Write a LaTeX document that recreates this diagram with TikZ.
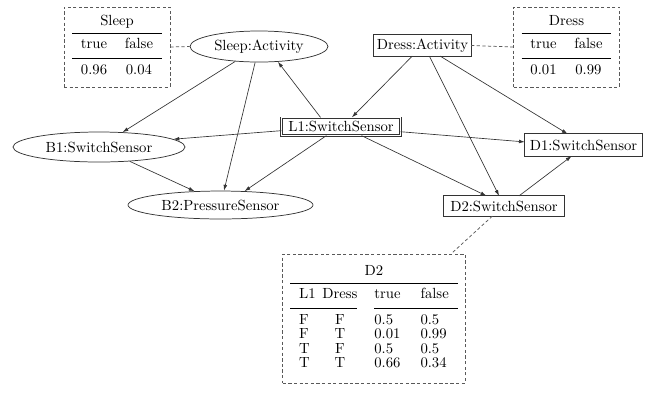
\documentclass[tikz,border=0pt]{standalone}
\usepackage{booktabs}
\usetikzlibrary{shapes.geometric,arrows.meta}
\renewcommand{\arraystretch}{0.82}
\setlength{\aboverulesep}{3.5pt}
\setlength{\belowrulesep}{3.8pt}
\definecolor{linecol}{gray}{0.2}
\definecolor{dashcol}{gray}{0.35}
\tikzset{
  ell/.style={ellipse, draw=linecol, line width=0.5pt, inner sep=0pt, text=black},
  dbox/.style={rectangle, draw=linecol, double, double distance=0.8pt, line width=0.4pt, inner sep=0pt, text=black},
  tbl/.style={rectangle, draw=dashcol, line width=0.5pt, dash pattern=on 2.2pt off 1.6pt, inner sep=0pt, text=black},
  arr/.style={draw=linecol, line width=0.45pt, -{Latex[length=4pt,width=2.6pt]}},
  dline/.style={draw=dashcol, line width=0.5pt, dash pattern=on 2.2pt off 1.6pt},
}
\begin{document}
\begin{tikzpicture}[x=0.68pt, y=-0.68pt]
\useasboundingbox (0,0) rectangle (655,394);
% variable nodes
\node[ell, minimum width=93.8pt, minimum height=21.1pt] (sleep) at (259,46.5) {Sleep:Activity};
\node[ell, minimum width=117pt, minimum height=20.4pt] (b1) at (99,147) {B1:SwitchSensor};
\node[ell, minimum width=125.8pt, minimum height=19pt] (b2) at (220.5,205) {B2:PressureSensor};
\node[dbox, minimum width=65.7pt, minimum height=14pt] (dress) at (422.5,45.5) {Dress:Activity};
\node[dbox, minimum width=80.7pt, minimum height=12pt] (l1) at (341,126.5) {L1:SwitchSensor};
\node[dbox, minimum width=79.4pt, minimum height=14.7pt] (d1) at (583.5,145) {D1:SwitchSensor};
\node[dbox, minimum width=81.4pt, minimum height=13.4pt] (d2) at (504,206) {D2:SwitchSensor};
% tables
\node[tbl, minimum width=72pt, minimum height=54.4pt] (st) at (117,47) {%
\begin{tabular}{cc}
\multicolumn{2}{c}{Sleep}\\
\specialrule{0.8pt}{2pt}{3pt}
true & false\\
\midrule[0.4pt]
0.96 & 0.04
\end{tabular}};
\node[tbl, minimum width=72pt, minimum height=54.4pt] (dt) at (566.5,47) {%
\begin{tabular}{cc}
\multicolumn{2}{c}{Dress}\\
\specialrule{0.8pt}{2pt}{3pt}
true & false\\
\midrule[0.4pt]
0.01 & 0.99
\end{tabular}};
\node[tbl, minimum width=124pt, minimum height=87.7pt] (d2t) at (374,318.5) {%
\begin{tabular}{@{\hspace{6pt}}l@{\hspace{4.5pt}}c@{\hspace{11.5pt}}l@{\hspace{13.6pt}}l@{\hspace{6pt}}}
\multicolumn{4}{c}{D2}\\
\specialrule{0.8pt}{2pt}{3pt}
L1 & Dress & true & false\\
\cmidrule(r{11.5pt}){1-2}\cmidrule{3-4}
F & F & 0.5 & 0.5\\
F & T & 0.01 & 0.99\\
T & F & 0.5 & 0.5\\
T & T & 0.66 & 0.34
\end{tabular}};
% dashed links
\draw[dline] (st.east) -- (sleep.west);
\draw[dline] (dress.east) -- (dt.west);
\draw[dline] (d2.221) -- (d2t.40);
% arrows
\draw[arr] (sleep) -- (b1);
\draw[arr] (sleep) -- (b2);
\draw[arr] (l1.156) -- (sleep.-39);
\draw[arr] (l1.184) -- (b1.6);
\draw[arr] (l1.212) -- (b2.30);
\draw[arr] (dress.226) -- (l1.40);
\draw[arr] (dress.-57) -- (d2.116);
\draw[arr] (dress.-31) -- (d1.145);
\draw[arr] (l1.-5) -- (d1.177);
\draw[arr] (l1.-24) -- (d2.150);
\draw[arr] (b1.-25) -- (b2.152);
\draw[arr] (d2.34.5) -- (d1.223);
\end{tikzpicture}
\end{document}
